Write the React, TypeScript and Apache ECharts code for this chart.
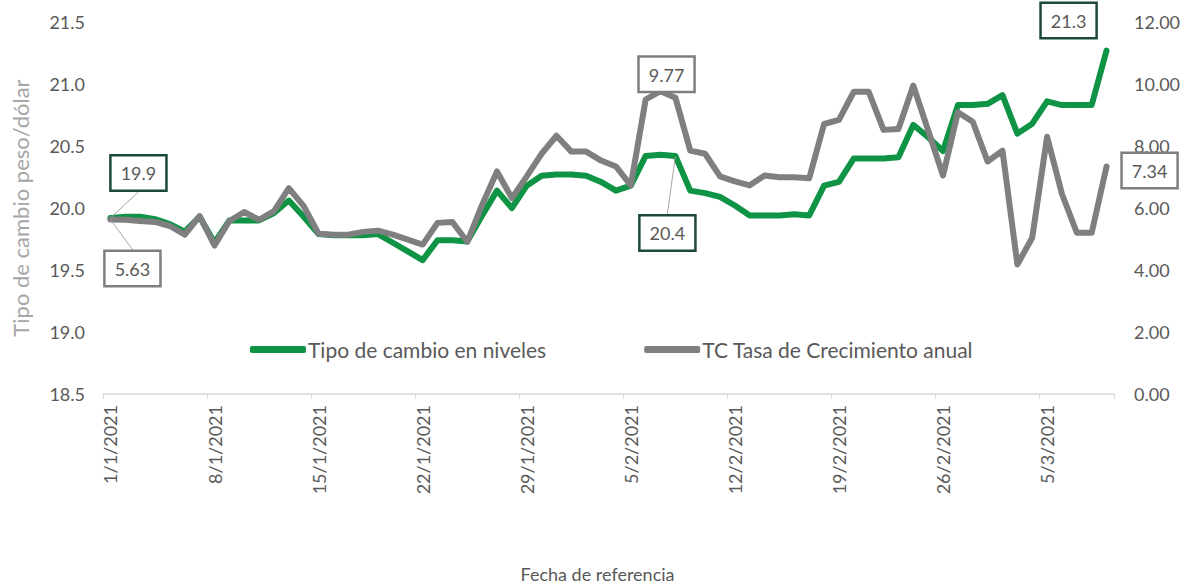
import React, { useEffect, useRef } from "react";
import * as echarts from "echarts";

// Daily categories from 1/1/2021 to 9/3/2021
const START_DAY = { d: 1, m: 1, y: 2021 };
const DAY_COUNT = 68;
const monthDays = [31, 28, 31, 30, 31, 30, 31, 31, 30, 31, 30, 31];
const buildDates = (): string[] => {
  const out: string[] = [];
  let d = START_DAY.d, m = START_DAY.m;
  for (let k = 0; k < DAY_COUNT; k++) {
    out.push(`${d}/${m}/${START_DAY.y}`);
    d++;
    if (d > monthDays[m - 1]) { d = 1; m++; }
  }
  return out;
};
const dates: string[] = buildDates();

// Tipo de cambio en niveles (peso/dólar)
const tipoCambio: number[] = [
  19.92, 19.93, 19.93, 19.91, 19.87, 19.81, 19.93, 19.72, 19.90, 19.90,
  19.90, 19.96, 20.06, 19.93, 19.79, 19.78, 19.78, 19.78, 19.79, 19.72,
  19.65, 19.58, 19.74, 19.74, 19.73, 19.94, 20.14, 20.00, 20.18, 20.26,
  20.27, 20.27, 20.26, 20.21, 20.14, 20.18, 20.42, 20.43, 20.42, 20.14,
  20.12, 20.09, 20.02, 19.94, 19.94, 19.94, 19.95, 19.94, 20.18, 20.21,
  20.40, 20.40, 20.40, 20.41, 20.67, 20.57, 20.46, 20.83, 20.83, 20.84,
  20.91, 20.60, 20.68, 20.86, 20.83, 20.83, 20.83, 21.27,
];

// TC Tasa de Crecimiento anual (%)
const tasaCrecimiento: number[] = [
  5.63, 5.62, 5.58, 5.55, 5.42, 5.14, 5.74, 4.79, 5.58, 5.87,
  5.62, 5.90, 6.64, 6.06, 5.17, 5.14, 5.14, 5.23, 5.27, 5.14,
  4.98, 4.82, 5.52, 5.55, 4.91, 6.10, 7.18, 6.32, 7.02, 7.75,
  8.33, 7.82, 7.82, 7.53, 7.34, 6.73, 9.50, 9.77, 9.56, 7.85,
  7.75, 7.02, 6.86, 6.73, 7.05, 6.99, 6.99, 6.96, 8.71, 8.84,
  9.75, 9.75, 8.52, 8.55, 9.95, 8.50, 7.05, 9.09, 8.78, 7.50,
  7.85, 4.18, 5.04, 8.30, 6.45, 5.20, 5.20, 7.34,
];

const leftTicks = { min: 18.5, max: 21.5, interval: 0.5 };
const rightTicks = { min: 0, max: 12, interval: 2 };

const seriesNames = ["Tipo de cambio en niveles", "TC Tasa de Crecimiento anual"];
const labeledGreen = [0, 38, 67];
const labeledGray = [0, 37, 67];
const withConnector: Record<number, number[]> = { 0: [0, 38], 1: [0] };

// label displacement (dx, dy) from the default label position
const labelShift: Record<number, Record<number, [number, number]>> = {
  0: { 0: [28, -23], 38: [-8, 99], 67: [-38, -8] },
  1: { 0: [22, 71], 37: [6, 5], 67: [43, 26] },
};

const GREEN = "#0f9446";
const GRAY = "#7f7f7f";
const FONT = "Lato";

export default function App() {
  const ref = useRef<HTMLDivElement>(null);
  useEffect(() => {
    if (!ref.current) return;
    const chart = echarts.init(ref.current, undefined, { renderer: "svg" });

    const boxLabel = (border: string, text: string) => ({
      show: true,
      formatter: text,
      color: "#595959",
      fontFamily: FONT,
      fontSize: 18,
      backgroundColor: "#ffffff",
      borderColor: border,
      borderWidth: 2.5,
      padding: [8, 9, 7, 9],
    });

    const makeItem = (si: number, v: number, i: number, border: string, digits: number) => ({
      value: v,
      label: boxLabel(border, v.toFixed(digits)),
      labelLine: { show: withConnector[si].includes(i) },
    });

    const greenData = tipoCambio.map((v, i) =>
      labeledGreen.includes(i) ? makeItem(0, v, i, "#1d4a38", 1) : v
    );
    const grayData = tasaCrecimiento.map((v, i) =>
      labeledGray.includes(i) ? makeItem(1, v, i, "#7f7f7f", 2) : v
    );

    const layoutFn = (p: any) => {
      const s = labelShift[p.seriesIndex];
      const off = s ? s[p.dataIndex] : undefined;
      return off ? { dx: off[0], dy: off[1] } : {};
    };

    chart.setOption({
      animation: false,
      textStyle: { fontFamily: FONT },
      grid: { left: 103, right: 80, top: 22, bottom: 190, containLabel: false },
      legend: {
        data: seriesNames,
        left: 245,
        top: 334,
        itemWidth: 56,
        itemHeight: 7,
        itemGap: 98,
        icon: "roundRect",
        textStyle: { color: "#595959", fontSize: 21, fontFamily: FONT, padding: [0, 0, 0, -3] },
      },
      xAxis: {
        type: "category",
        data: dates,
        boundaryGap: true,
        name: "Fecha de referencia",
        nameLocation: "middle",
        nameGap: 171,
        nameTextStyle: { color: "#595959", fontSize: 18, fontFamily: FONT, padding: [0, 22, 0, 0] },
        axisLine: { lineStyle: { color: "#d9d9d9", width: 1.5 } },
        axisTick: { show: true, interval: 6, length: 5, lineStyle: { color: "#d9d9d9" } },
        axisLabel: {
          interval: 6,
          rotate: 90,
          margin: 11,
          color: "#595959",
          fontSize: 18,
          fontFamily: FONT,
        },
        splitLine: { show: false },
      },
      yAxis: [
        {
          type: "value",
          min: leftTicks.min,
          max: leftTicks.max,
          interval: leftTicks.interval,
          name: "Tipo de cambio peso/dólar",
          nameLocation: "middle",
          nameGap: 72,
          nameTextStyle: { color: "#a6a6a6", fontSize: 22, fontFamily: FONT },
          axisLine: { show: false },
          axisTick: { show: false },
          splitLine: { show: false },
          axisLabel: {
            color: "#595959",
            fontSize: 18,
            fontFamily: FONT,
            margin: 18,
            formatter: (v: number) => v.toFixed(1),
          },
        },
        {
          type: "value",
          min: rightTicks.min,
          max: rightTicks.max,
          interval: rightTicks.interval,
          position: "right",
          axisLine: { show: false },
          axisTick: { show: false },
          splitLine: { show: false },
          axisLabel: {
            color: "#595959",
            fontSize: 18,
            fontFamily: FONT,
            margin: 20,
            formatter: (v: number) => v.toFixed(2),
          },
        },
      ],
      series: [
        {
          name: seriesNames[0],
          type: "line",
          yAxisIndex: 0,
          data: greenData,
          symbol: "circle",
          symbolSize: 1,
          showSymbol: true,
          showAllSymbol: true,
          color: GREEN,
          itemStyle: { color: GREEN },
          lineStyle: { color: GREEN, width: 6, cap: "round", join: "round" },
          label: { show: false },
          labelLine: { show: true, lineStyle: { color: "#a6a6a6", width: 1 } },
          labelLayout: layoutFn,
          emphasis: { disabled: true },
          z: 2,
        },
        {
          name: seriesNames[1],
          type: "line",
          yAxisIndex: 1,
          data: grayData,
          symbol: "circle",
          symbolSize: 1,
          showSymbol: true,
          showAllSymbol: true,
          color: GRAY,
          itemStyle: { color: GRAY },
          lineStyle: { color: GRAY, width: 6, cap: "round", join: "round" },
          label: { show: false },
          labelLine: { show: true, lineStyle: { color: "#a6a6a6", width: 1 } },
          labelLayout: layoutFn,
          emphasis: { disabled: true },
          z: 3,
        },
      ],
    });
    return () => chart.dispose();
  }, []);

  return (
    <div
      ref={ref}
      style={{ position: "fixed", left: 0, top: 0, width: 1194, height: 588, background: "#ffffff" }}
    />
  );
}
